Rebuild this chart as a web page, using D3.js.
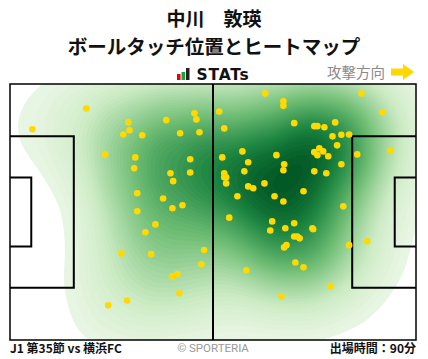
<!DOCTYPE html>
<meta charset="utf-8">
<html lang="ja">
<head>
<meta charset="utf-8">
<title>ボールタッチ位置とヒートマップ</title>
<script src="https://cdn.jsdelivr.net/npm/d3@7"></script>
<style type="text/css">
body { margin: 0; background: #fff; }
.title { font-family: "Noto Sans CJK JP", sans-serif; font-weight: 700; fill: #111; }
.line { fill: none; stroke: #000; stroke-width: 2px; }
.border { fill: none; stroke: #000; stroke-width: 1.5px; }
.foot { font-family: "Noto Sans CJK JP", sans-serif; font-size: 12px; font-weight: 700; fill: #111; }
</style>
</head>
<body>
<div id="chart"></div>
<script type="text/javascript">
"use strict";

var width = 428, height = 359;

var playerName = "中川　敦瑛";
var chartTitle = "ボールタッチ位置とヒートマップ";
var matchLabel = "J1 第35節 vs 横浜FC";
var minutesLabel = "出場時間：90分";
var directionLabel = "攻撃方向";

// pitch size in metres
var pitchLength = 105, pitchWidth = 68;

// ball touches, metres from the left / top edge
var touchX = [19.7, 5.8, 30.6, 30.9, 29.3, 34.2, 40.4, 47.7, 48.2, 44.0, 49.0, 24.6, 32.4, 32.1,
  46.6, 41.5, 46.6, 42.2, 32.9, 39.6, 44.6, 42.0, 32.9, 37.6, 35.0, 28.8, 36.5, 50.2, 49.5,
  42.0, 43.3, 43.8, 30.3, 25.4,
  66.0, 70.7, 70.7, 54.1, 90.9, 96.3, 55.4, 73.5, 78.7, 79.5, 81.3, 84.1, 83.4, 85.7, 87.7,
  84.6, 60.1, 54.9, 61.6, 68.9, 70.9, 70.7, 78.7, 80.0, 79.5, 81.0, 82.3, 85.7, 89.8, 98.4,
  60.6, 55.4, 55.4, 55.9, 55.9, 78.7, 81.8, 61.6, 62.9, 65.8, 58.8, 68.4, 70.7, 75.9, 86.2,
  56.7, 67.8, 73.5, 67.3, 71.2, 78.2, 78.4, 73.5, 74.3, 74.9, 71.5, 70.9, 87.7, 92.4, 73.8,
  75.9, 61.1, 82.8, 70.2];
var touchY = [6.5, 12.0, 10.2, 12.3, 13.4, 13.6, 9.6, 7.8, 9.4, 13.1, 12.8, 18.7, 19.5, 22.4,
  20.0, 23.7, 23.5, 25.8, 29.0, 30.4, 32.2, 33.0, 33.8, 37.3, 39.4, 45.0, 45.2, 44.1, 47.9,
  51.1, 50.5, 55.6, 57.5, 58.8,
  2.5, 4.6, 5.8, 7.3, 2.5, 7.5, 11.8, 10.4, 11.2, 11.2, 11.5, 10.2, 13.9, 13.5, 13.4,
  16.3, 17.9, 19.5, 20.8, 18.9, 21.3, 22.9, 18.1, 17.1, 18.9, 17.9, 19.2, 21.3, 18.7, 17.6,
  23.2, 23.7, 24.8, 24.8, 26.4, 23.2, 23.7, 27.2, 27.7, 26.4, 29.8, 29.8, 31.2, 28.5, 32.5,
  35.5, 36.5, 37.0, 38.9, 38.3, 38.3, 38.6, 40.5, 40.5, 41.0, 42.8, 43.4, 42.8, 41.8, 47.4,
  48.7, 49.5, 53.7, 56.4];

var touches = touchX.map(function(d, i) { return {x: d, y: touchY[i]}; });

var x = d3.scaleLinear().domain([0, pitchLength]).range([10, 416]);
var y = d3.scaleLinear().domain([0, pitchWidth]).range([84, 340]);

var svg = d3.select("#chart").append("svg")
    .attr("width", width)
    .attr("height", height);

// titles
svg.append("text").attr("class", "title")
    .attr("x", width / 2).attr("y", 26)
    .attr("text-anchor", "middle").style("font-size", "19px")
    .text(playerName);
svg.append("text").attr("class", "title")
    .attr("x", width / 2).attr("y", 53.5)
    .attr("text-anchor", "middle").style("font-size", "19.5px")
    .text(chartTitle);

// J STATs logo
var logo = svg.append("g");
logo.append("rect").attr("x", 177).attr("y", 74).attr("width", 3.5).attr("height", 6).attr("fill", "#e50012");
logo.append("rect").attr("x", 181.5).attr("y", 72).attr("width", 3.5).attr("height", 8).attr("fill", "#1aa23c");
logo.append("rect").attr("x", 186).attr("y", 68).attr("width", 3.5).attr("height", 12).attr("fill", "#222");
logo.append("text")
    .attr("x", 196.5).attr("y", 79.5)
    .style("font-family", "DejaVu Sans, sans-serif")
    .style("font-weight", 700).style("font-size", "15.5px")
    .style("letter-spacing", "0.8px")
    .attr("fill", "#111")
    .text("STATs");

// attack direction
svg.append("text")
    .attr("x", 385).attr("y", 77.5)
    .attr("text-anchor", "end")
    .style("font-family", "Noto Sans CJK JP, sans-serif")
    .style("font-size", "14.5px")
    .attr("fill", "#8a8a8a")
    .text(directionLabel);
svg.append("path")
    .attr("d", "M391,68.5 L403,68.5 L403,64 L414,72 L403,80 L403,75.5 L391,75.5 Z")
    .attr("fill", "#ffd800");

// heatmap
svg.append("clipPath").attr("id", "pitch-clip")
  .append("rect")
    .attr("x", x(0)).attr("y", y(0))
    .attr("width", x(pitchLength) - x(0)).attr("height", y(pitchWidth) - y(0));

var density = d3.contourDensity()
    .x(function(d) { return x(d.x); })
    .y(function(d) { return y(d.y); })
    .size([width, height])
    .cellSize(2)
    .bandwidth(37);

var contours = density.contours(touches);
var levels = d3.range(0.05, 1, 0.02).map(function(t) { return t * contours.max; });

var color = d3.scaleLinear()
    .domain([0, 0.2, 0.5, 0.8, 1])
    .range(["#f0f9ec", "#cdebc5", "#72bf76", "#1f8743", "#005724"])
    .interpolate(d3.interpolateRgb);

svg.append("g")
    .attr("clip-path", "url(#pitch-clip)")
  .selectAll("path")
  .data(levels.map(function(v) { return contours(v); }))
  .enter().append("path")
    .attr("d", d3.geoPath())
    .attr("fill", function(d) { return color(d.value / contours.max); });

// pitch lines
var lines = svg.append("g");
lines.append("rect").attr("class", "border")
    .attr("x", x(0)).attr("y", y(0))
    .attr("width", x(pitchLength) - x(0)).attr("height", y(pitchWidth) - y(0));
lines.append("line").attr("class", "line")
    .attr("x1", x(pitchLength / 2)).attr("x2", x(pitchLength / 2))
    .attr("y1", y(0)).attr("y2", y(pitchWidth));

var boxes = [
  {x0: 0, x1: 16.5, w: 40.3},
  {x0: 0, x1: 5.5, w: 18.3},
  {x0: pitchLength - 16.5, x1: pitchLength, w: 40.3},
  {x0: pitchLength - 5.5, x1: pitchLength, w: 18.3}
];
boxes.forEach(function(b) {
  var top = (pitchWidth - b.w) / 2, bottom = (pitchWidth + b.w) / 2;
  var edge = b.x0 === 0 ? b.x1 : b.x0;
  var side = b.x0 === 0 ? 0 : pitchLength;
  lines.append("path").attr("class", "line")
      .attr("d", "M" + x(side) + "," + y(top) + "L" + x(edge) + "," + y(top) +
                 "L" + x(edge) + "," + y(bottom) + "L" + x(side) + "," + y(bottom));
});

// touches
svg.append("g").selectAll("circle")
  .data(touches)
  .enter().append("circle")
    .attr("cx", function(d) { return x(d.x); })
    .attr("cy", function(d) { return y(d.y); })
    .attr("r", 3.3)
    .attr("fill", "#ffd900");

// footer
svg.append("text").attr("class", "foot")
    .attr("x", 10).attr("y", 353)
    .text(matchLabel);
svg.append("text")
    .attr("x", 213).attr("y", 352)
    .attr("text-anchor", "middle")
    .style("font-family", "Roboto, sans-serif")
    .style("font-size", "11.5px")
    .attr("fill", "#999")
    .text("© SPORTERIA");
svg.append("text").attr("class", "foot")
    .attr("x", 416).attr("y", 353)
    .attr("text-anchor", "end")
    .text(minutesLabel);

</script>
</body>
</html>
